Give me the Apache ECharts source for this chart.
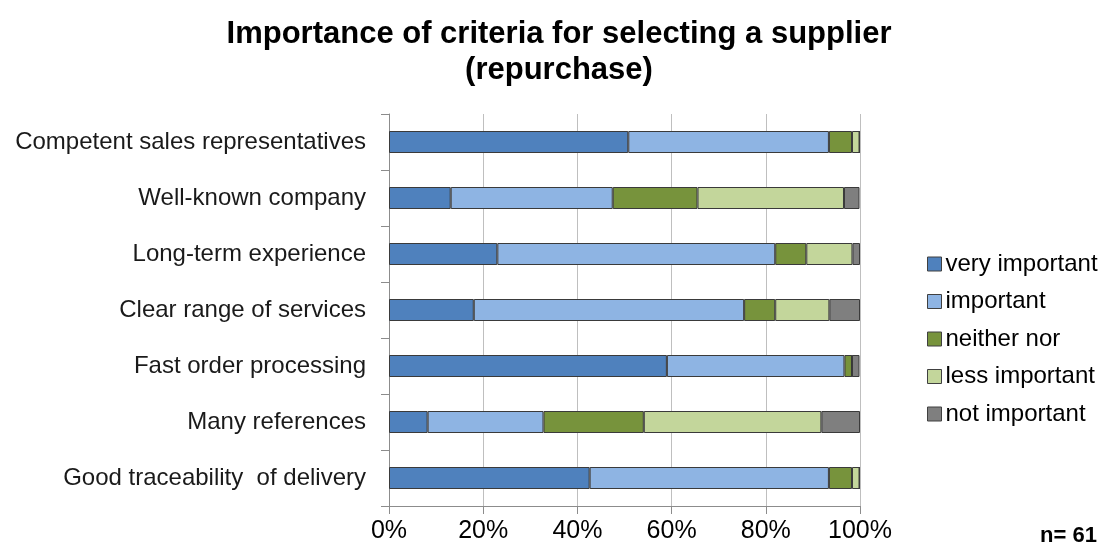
<!DOCTYPE html>
<html>
<head>
<meta charset="utf-8">
<script src="https://cdn.jsdelivr.net/npm/echarts@6/dist/echarts.min.js"></script>
<style>html,body{margin:0;padding:0;background:#fff}#c{width:1107px;height:551px}</style>
</head>
<body>
<div id="c"></div>
<script>
// Categories, top to bottom
const categories = [
  'Competent sales representatives',
  'Well-known company',
  'Long-term experience',
  'Clear range of services',
  'Fast order processing',
  'Many references',
  'Good traceability  of delivery'
];
const seriesNames = ['very important', 'important', 'neither nor', 'less important', 'not important'];
// Percent values (n = 61), per category in the order above
const veryImportant  = [50.8, 13.1, 23.0, 18.0, 59.0,  8.2, 42.6];
const important      = [42.6, 34.4, 59.0, 57.4, 37.7, 24.6, 50.8];
const neitherNor     = [ 4.9, 18.0,  6.6,  6.6,  1.6, 21.3,  4.9];
const lessImportant  = [ 1.6, 31.1,  9.8, 11.5,  0.0, 37.7,  1.6];
const notImportant   = [ 0.0,  3.3,  1.6,  6.5,  1.6,  8.2,  0.0];
const xTicks = [0, 20, 40, 60, 80, 100];
const colors = ['#4F81BD', '#8EB4E3', '#77933C', '#C3D69B', '#7F7F7F'];

const data = [veryImportant, important, neitherNor, lessImportant, notImportant];
const font = '"Liberation Sans", Arial, sans-serif';

const chart = echarts.init(document.getElementById('c'), null, {renderer: 'canvas'});
chart.setOption({
  animation: false,
  backgroundColor: '#fff',
  color: colors,
  title: {
    text: 'Importance of criteria for selecting a supplier\n(repurchase)',
    left: 559, top: 16, textAlign: 'center', padding: 0,
    textStyle: {fontFamily: font, fontSize: 31, fontWeight: 'bold', color: '#000', lineHeight: 36}
  },
  legend: {
    orient: 'vertical', left: 927, top: 252, padding: 0,
    itemWidth: 14, itemHeight: 14, itemGap: 13.5,
    icon: 'rect',
    data: seriesNames,
    textStyle: {fontFamily: font, fontSize: 24, color: '#000', padding: [0, 0, 0, -1]},
    itemStyle: {borderColor: '#404040', borderWidth: 1}
  },
  grid: {left: 389, width: 471, top: 114, height: 392, containLabel: false},
  xAxis: {
    type: 'value', min: 0, max: 100, interval: 20,
    axisLabel: {formatter: v => xTicks.includes(v) ? v + '%' : '', fontFamily: font, fontSize: 25, color: '#000', margin: 13},
    axisLine: {show: true, lineStyle: {color: '#8c8c8c'}},
    axisTick: {show: true, length: 8, lineStyle: {color: '#8c8c8c'}},
    splitLine: {show: true, lineStyle: {color: '#bfbfbf', width: 1}}
  },
  yAxis: {
    type: 'category', inverse: true, data: categories,
    axisLabel: {fontFamily: font, fontSize: 24, color: '#1a1a1a', margin: 23},
    axisLine: {show: true, lineStyle: {color: '#8c8c8c'}},
    axisTick: {show: true, length: 8, lineStyle: {color: '#8c8c8c'}}
  },
  graphic: [{
    type: 'text', left: 1040, top: 525,
    style: {text: 'n= 61', font: 'bold 22px ' + font, fill: '#000'}
  }],
  series: seriesNames.map((name, i) => ({
    name, type: 'bar', stack: 'total', data: data[i],
    barWidth: 22,
    itemStyle: {color: colors[i], borderColor: '#3a3a3a', borderWidth: 1}
  }))
});
</script>
</body>
</html>
